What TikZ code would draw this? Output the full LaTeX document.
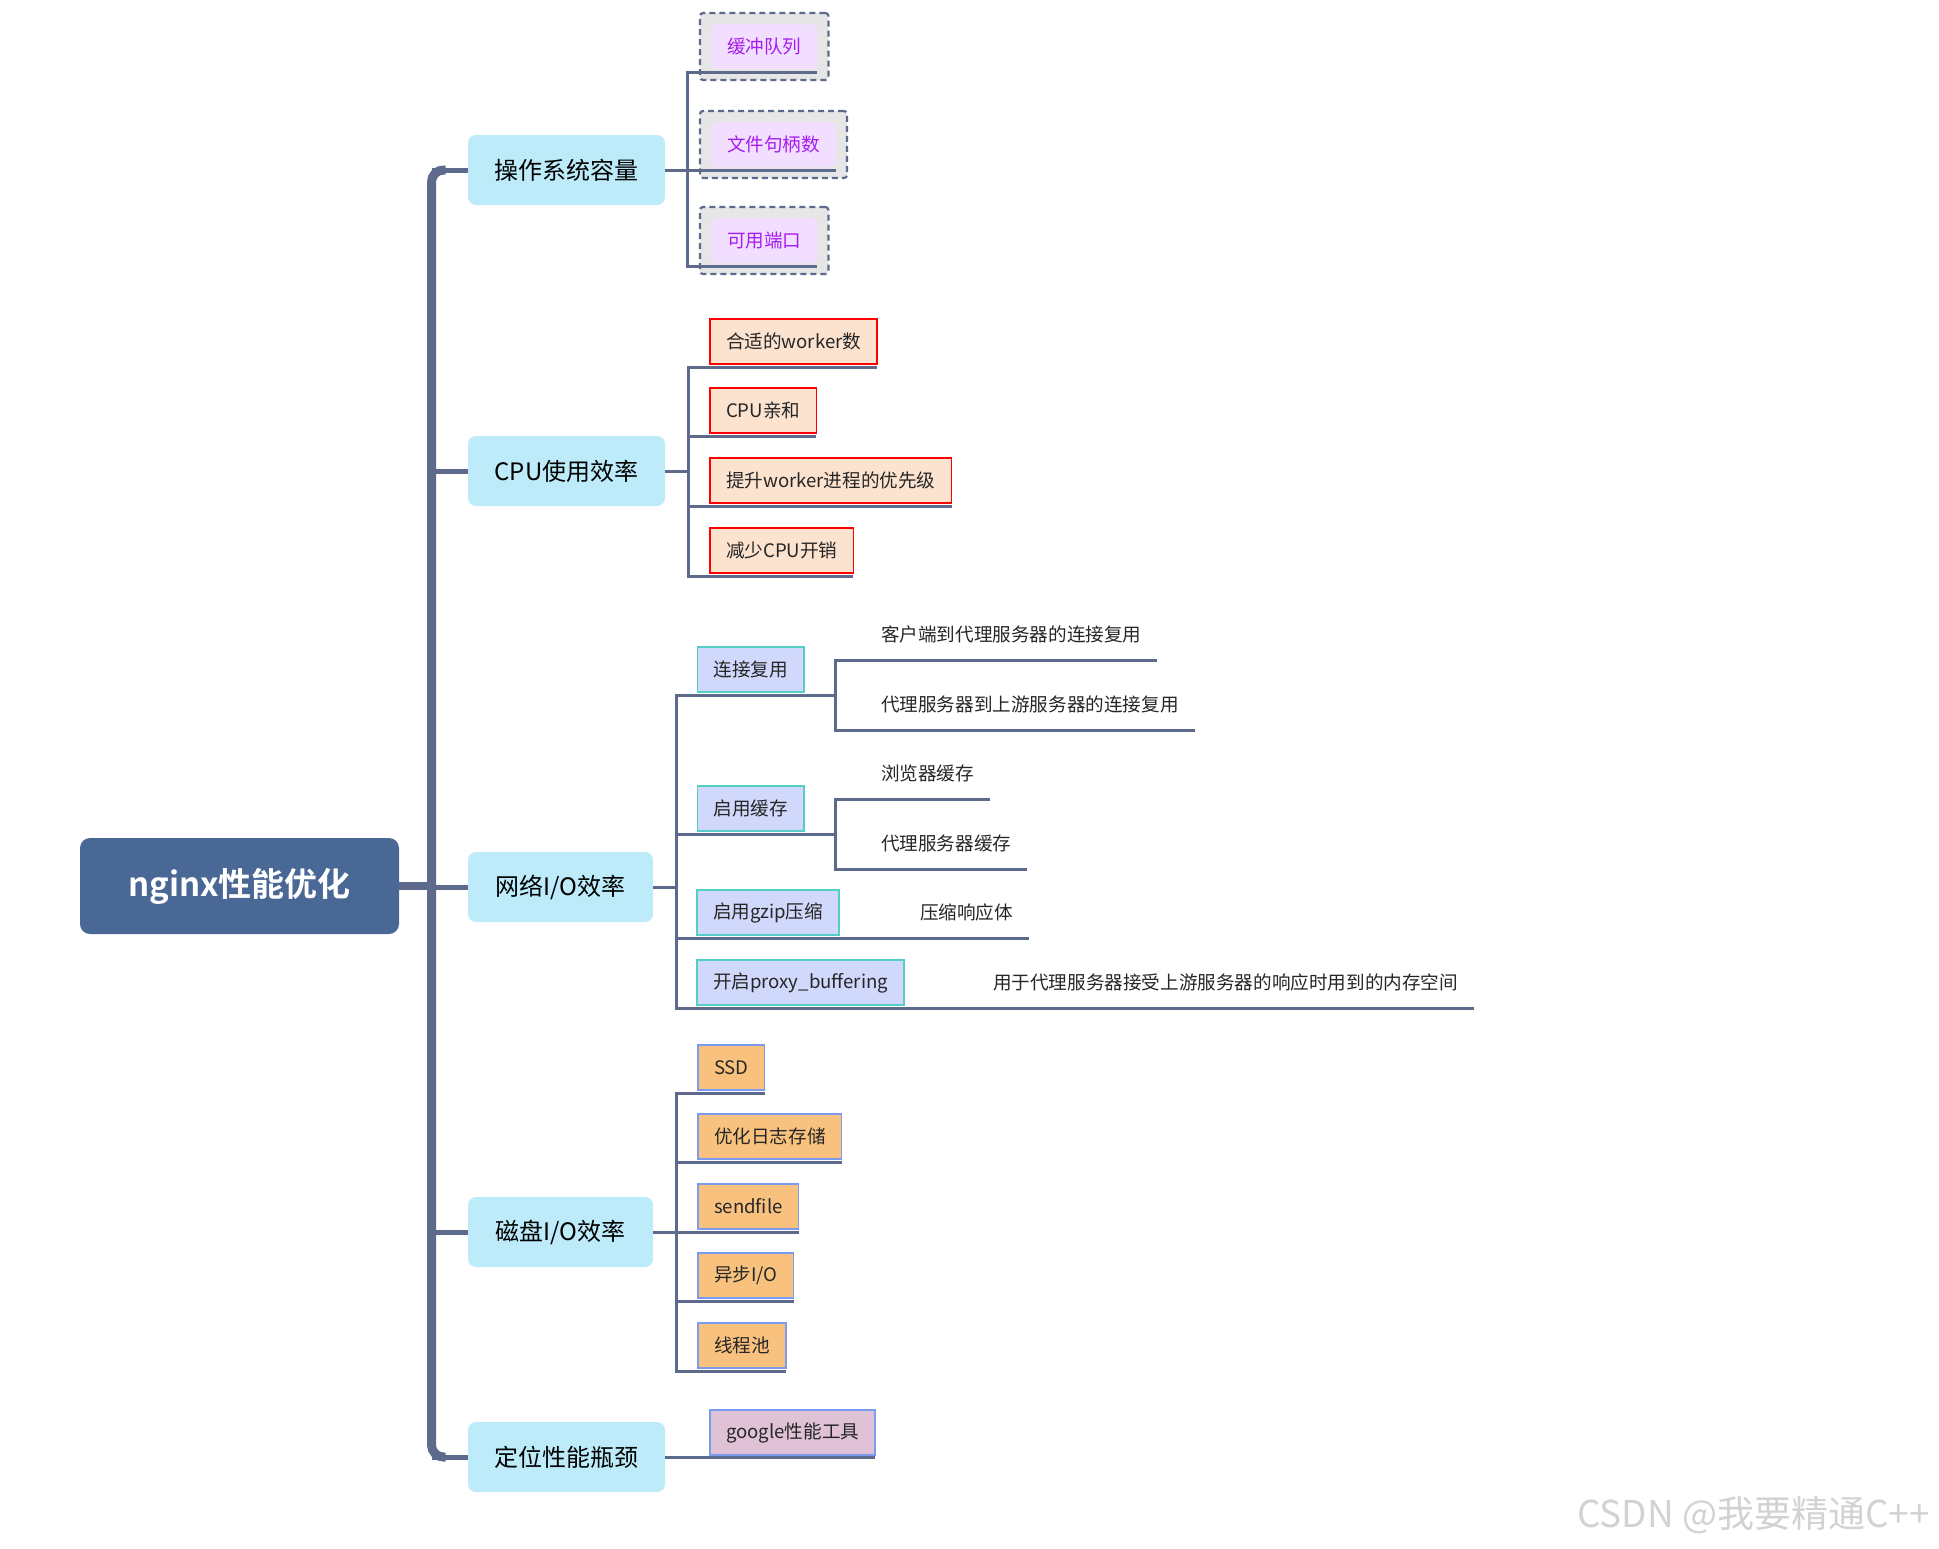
\documentclass[tikz,border=0pt]{standalone}
\usepackage{fontspec}
\setmainfont{Noto Sans CJK SC}[BoldFont={Noto Sans CJK SC Bold}]
\usetikzlibrary{fit,backgrounds}

\definecolor{lnk}{HTML}{5E6A8C}
\definecolor{rootc}{HTML}{4A6896}
\definecolor{topicc}{HTML}{BDEBFA}
\definecolor{tagout}{HTML}{E6E6E6}
\definecolor{tagin}{HTML}{F2DFFF}
\definecolor{tagtxt}{HTML}{A61CF0}
\definecolor{cpufill}{HTML}{FCE3CF}
\definecolor{netfill}{HTML}{D0D8FB}
\definecolor{netline}{HTML}{55CEC6}
\definecolor{diskfill}{HTML}{F8C27E}
\definecolor{diskline}{HTML}{7B9BF0}
\definecolor{toolfill}{HTML}{E0C2D6}
\definecolor{txt}{HTML}{262626}

\tikzset{
  spine/.style={draw=lnk, line width=4.5pt, rounded corners=6pt},
  branch/.style={draw=lnk, line width=2.5pt},
  twig/.style={draw=lnk, line width=1.5pt},
  root/.style={fill=rootc, rounded corners=5pt, text=white, outer sep=0pt,
    minimum width=159.5pt, minimum height=48pt, font=\bfseries\fontsize{16.5}{18}\selectfont},
  topic/.style={fill=topicc, rounded corners=4pt, anchor=west, outer sep=0pt,
    minimum height=35pt, text=black, font=\fontsize{12}{14}\selectfont},
  leaf/.style={anchor=south west, inner xsep=8pt, inner ysep=0pt, outer xsep=0pt, outer ysep=1.5pt,
    minimum height=22.5pt, text=txt, line width=0.75pt, font=\fontsize{9.3}{11}\selectfont},
  tag/.style={leaf, fill=tagin, rounded corners=3pt, text=tagtxt},
  tagframe/.style={draw=lnk, dash pattern=on 3pt off 2pt, line width=1.1pt, fill=tagout,
    rounded corners=1.5pt, inner xsep=5.5pt, inner ysep=4pt},
  cpuleaf/.style={leaf, fill=cpufill, draw=red},
  netleaf/.style={leaf, fill=netfill, draw=netline},
  diskleaf/.style={leaf, fill=diskfill, draw=diskline},
  toolleaf/.style={leaf, fill=toolfill, draw=diskline},
  note/.style={leaf},
}

\begin{document}
\begin{tikzpicture}[x=0.5pt, y=-0.5pt]
\useasboundingbox (0,0) rectangle (1939,1548);

% root and main topics
\node[root] (nginx) at (239.5,886) {nginx性能优化};
\node[topic, minimum width=98.5pt] (os) at (468,170) {操作系统容量};
\node[topic, minimum width=98.5pt] (cpu) at (468,471) {CPU使用效率};
\node[topic, minimum width=92.5pt] (net) at (468,887) {网络I/O效率};
\node[topic, minimum width=92.5pt] (disk) at (468,1232) {磁盘I/O效率};
\node[topic, minimum width=98.5pt] (loc) at (468,1457) {定位性能瓶颈};

% spine
\coordinate (sp) at (431.5,0);
\draw[draw=lnk, line width=4pt] (nginx.east) -- (nginx.east -| sp);
\draw[spine] ([xshift=7pt]os.west -| sp) -| (sp |- loc.west) -- ([xshift=7pt]sp |- loc.west);
\draw[branch] (sp |- os.west) -- (os.west);
\draw[branch] (sp |- cpu.west) -- (cpu.west);
\draw[branch] (sp |- net.west) -- (net.west);
\draw[branch] (sp |- disk.west) -- (disk.west);
\draw[branch] (sp |- loc.west) -- (loc.west);

% operating system capacity
\node[tag] (q1) at (711,72) {缓冲队列};
\node[tag] (q2) at (711,170) {文件句柄数};
\node[tag] (q3) at (711,266) {可用端口};
\begin{scope}[on background layer]
  \node[tagframe, fit=(q1)] (f1) {};
  \node[tagframe, fit=(q2)] (f2) {};
  \node[tagframe, fit=(q3)] (f3) {};
\end{scope}
\coordinate (osB) at (687,0);
\draw[twig] (os.east) -- (os.east -| osB);
\draw[twig] (q1.south east) -- (osB |- q1.south) -- (osB |- q3.south) -- (q3.south east);
\draw[twig] (osB |- q2.south) -- (q2.south east);

% cpu usage
\node[cpuleaf] (w1) at (710,367) {合适的worker数};
\node[cpuleaf] (w2) at (710,436) {CPU亲和};
\node[cpuleaf] (w3) at (710,506) {提升worker进程的优先级};
\node[cpuleaf] (w4) at (710,576) {减少CPU开销};
\coordinate (cpuB) at (688,0);
\draw[twig] (cpu.east) -- (cpu.east -| cpuB);
\draw[twig] (w1.south east) -- (cpuB |- w1.south) -- (cpuB |- w4.south) -- (w4.south east);
\draw[twig] (cpuB |- w2.south) -- (w2.south east);
\draw[twig] (cpuB |- w3.south) -- (w3.south east);

% network io
\node[netleaf] (n1) at (697.5,695) {连接复用};
\node[netleaf] (n2) at (697.5,834) {启用缓存};
\node[netleaf] (n3) at (697,938) {启用gzip压缩};
\node[netleaf] (n4) at (697,1008) {开启proxy\_buffering};
\node[note] (m1) at (865,660) {客户端到代理服务器的连接复用};
\node[note] (m2) at (865,730) {代理服务器到上游服务器的连接复用};
\node[note] (m3) at (865,799) {浏览器缓存};
\node[note] (m4) at (865,869) {代理服务器缓存};
\node[note] (m5) at (904,938) {压缩响应体};
\node[note] (m6) at (977,1008) {用于代理服务器接受上游服务器的响应时用到的内存空间};
\coordinate (netB) at (676,0);
\coordinate (subB) at (835,0);
\draw[twig] (net.east) -- (net.east -| netB);
\draw[twig] (subB |- n1.south) -- (netB |- n1.south) -- (netB |- n4.south) -- (m6.south east);
\draw[twig] (netB |- n2.south) -- (subB |- n2.south);
\draw[twig] (netB |- n3.south) -- (m5.south east);
\draw[twig] (m1.south east) -- (subB |- m1.south) -- (subB |- m2.south) -- (m2.south east);
\draw[twig] (m3.south east) -- (subB |- m3.south) -- (subB |- m4.south) -- (m4.south east);

% disk io
\node[diskleaf] (d1) at (698,1093) {SSD};
\node[diskleaf] (d2) at (698,1162) {优化日志存储};
\node[diskleaf] (d3) at (698,1232) {sendfile};
\node[diskleaf] (d4) at (698,1301) {异步I/O};
\node[diskleaf] (d5) at (698,1371) {线程池};
\coordinate (diskB) at (676,0);
\draw[twig] (disk.east) -- (disk.east -| diskB);
\draw[twig] (d1.south east) -- (diskB |- d1.south) -- (diskB |- d5.south) -- (d5.south east);
\draw[twig] (diskB |- d2.south) -- (d2.south east);
\draw[twig] (diskB |- d3.south) -- (d3.south east);
\draw[twig] (diskB |- d4.south) -- (d4.south east);

% bottleneck tools
\node[toolleaf] (g1) at (710,1458) {google性能工具};
\draw[twig] (loc.east) -- (loc.east -| g1.south east);

% watermark
\node[anchor=east, text=gray!35, font=\fontsize{18.5}{20}\selectfont] (mark) at (1937,1515) {CSDN @我要精通C++};

\end{tikzpicture}
\end{document}
